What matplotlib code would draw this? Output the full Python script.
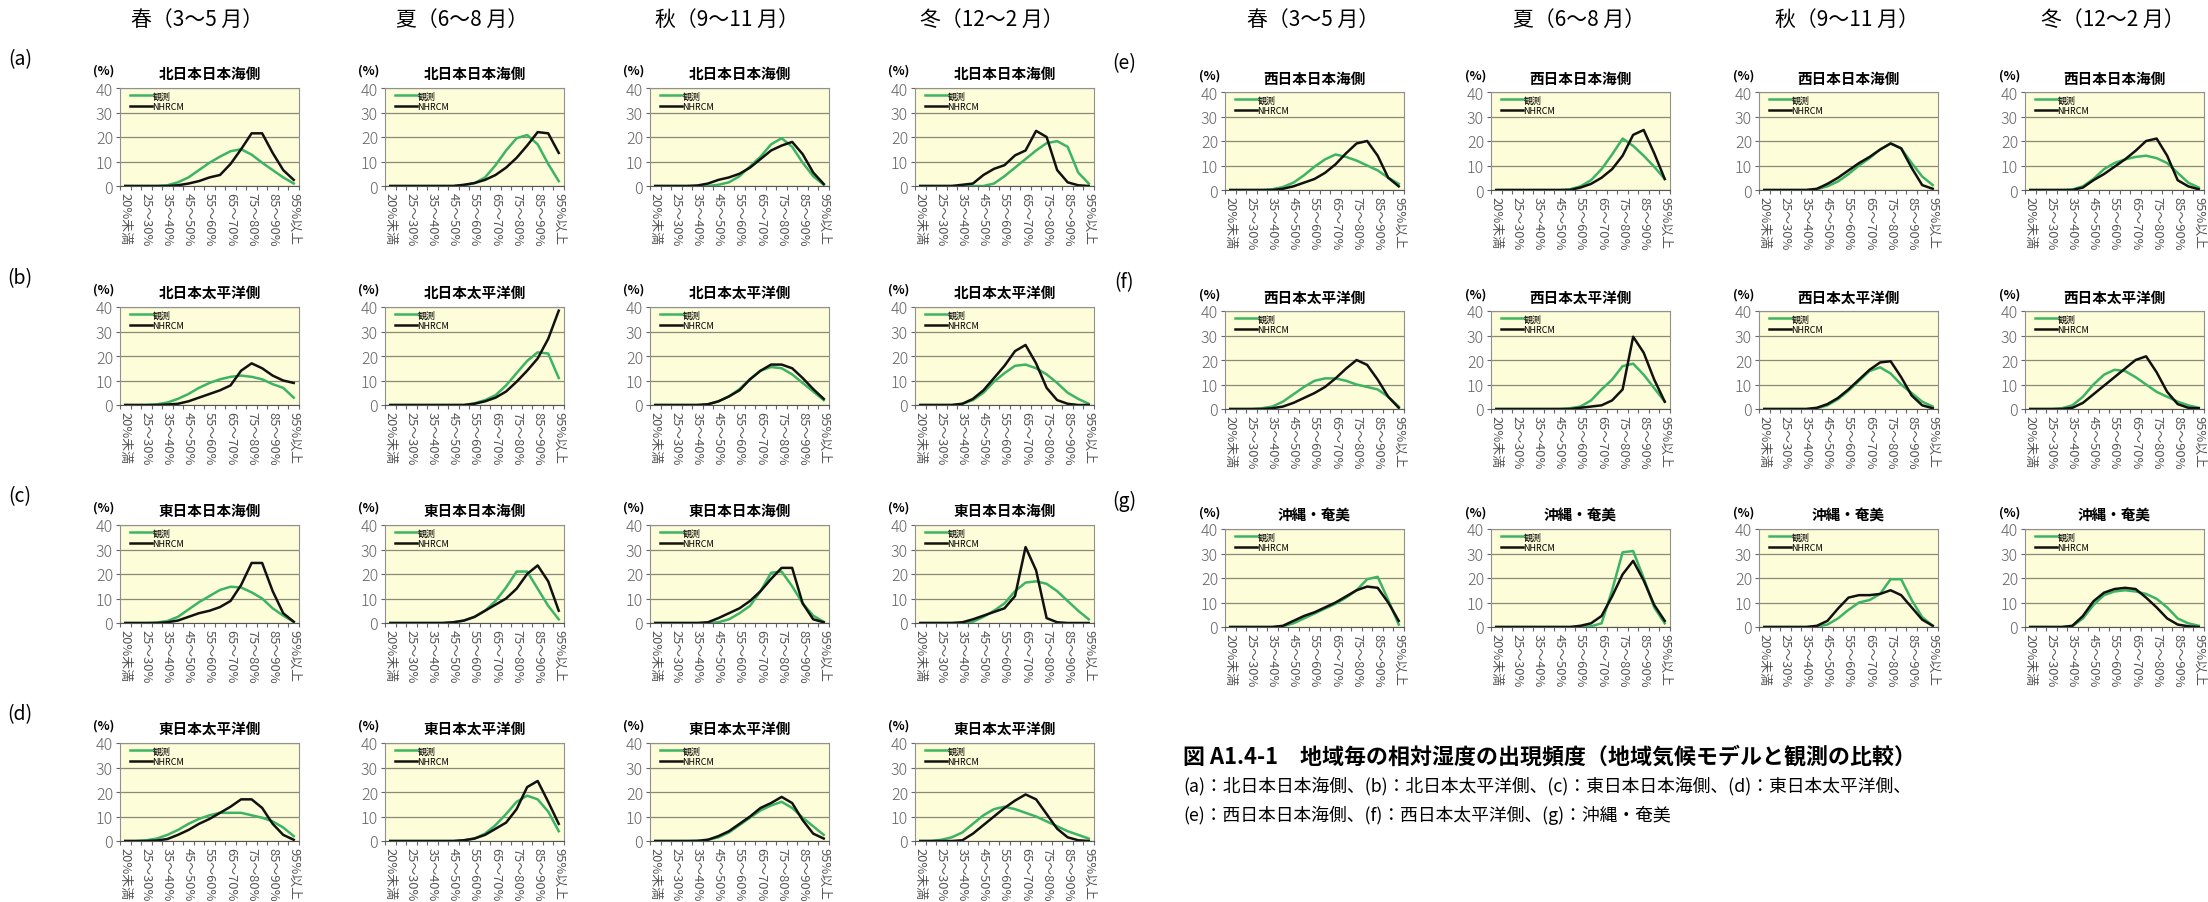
import matplotlib.pyplot as plt
import numpy as np

plt.rcParams['font.family'] = ['Noto Sans CJK JP', 'DejaVu Sans']

# 相対湿度の階級（17区分）
categories = ['20%未満', '20～25%', '25～30%', '30～35%', '35～40%', '40～45%',
              '45～50%', '50～55%', '55～60%', '60～65%', '65～70%', '70～75%',
              '75～80%', '80～85%', '85～90%', '90～95%', '95%以上']
seasons = ['春（3～5 月）', '夏（6～8 月）', '秋（9～11 月）', '冬（12～2 月）']
regions = ['北日本日本海側', '北日本太平洋側', '東日本日本海側', '東日本太平洋側',
           '西日本日本海側', '西日本太平洋側', '沖縄・奄美']
tags = ['(a)', '(b)', '(c)', '(d)', '(e)', '(f)', '(g)']

# 観測 / NHRCM の出現頻度(%)  各地域: 春, 夏, 秋, 冬
obs_a = [[0, 0, 0, 0, 0.3, 1.5, 3.5, 6.5, 9.5, 12, 14.2, 15, 12.8, 9.5, 6.5, 3.5, 1],
         [0, 0, 0, 0, 0, 0, 0, 0.3, 1.2, 3.5, 8.5, 14.5, 19.5, 20.8, 17, 9, 2],
         [0, 0, 0, 0, 0, 0, 0.5, 1.5, 4, 8, 12, 17, 19.5, 16, 9.5, 4, 0.5],
         [0, 0, 0, 0, 0, 0, 0, 1, 4, 7.5, 11, 14.5, 17.5, 18.3, 16, 5.5, 1]]
rcm_a = [[0, 0, 0, 0, 0, 0.3, 1, 2, 3.5, 4.5, 9, 15, 21.5, 21.5, 13.5, 6.5, 2.5],
         [0, 0, 0, 0, 0, 0, 0, 0.5, 1.2, 2.5, 4.5, 7.5, 11.5, 16.5, 22, 21.5, 13.5],
         [0, 0, 0, 0, 0.2, 1, 2.5, 3.5, 5, 7.5, 11, 14.5, 16.5, 18, 13, 5.5, 0.8],
         [0, 0, 0, 0, 0.5, 1, 4.5, 7, 8.5, 12.5, 14.5, 22.5, 20, 6.5, 1.5, 0.3, 0]]

obs_b = [[0, 0, 0, 0.3, 1, 2.5, 4.5, 7, 9, 10.5, 11.5, 12, 11.5, 10.5, 8.5, 7, 3],
         [0, 0, 0, 0, 0, 0, 0, 0, 0.7, 2, 4, 8, 13, 18, 21.5, 21, 11],
         [0, 0, 0, 0, 0, 0.3, 1.5, 3.5, 6.5, 10.5, 14, 15.5, 15, 12.5, 9, 5.5, 2],
         [0, 0, 0, 0, 0.5, 2, 5, 9.5, 13, 16, 16.5, 15, 12.5, 9, 5, 2.5, 0.5]]
rcm_b = [[0, 0, 0, 0, 0.2, 0.5, 1.5, 3, 4.5, 6, 8, 14, 17, 15, 12, 10, 9],
         [0, 0, 0, 0, 0, 0, 0, 0, 0.5, 1.5, 3, 5.5, 9.5, 14, 19, 27, 38.5],
         [0, 0, 0, 0, 0, 0.3, 1.5, 3.5, 6, 10.5, 14, 16.5, 16.5, 15, 11, 6.5, 2.5],
         [0, 0, 0, 0, 0.5, 2.5, 6, 11, 16, 22, 24.5, 17, 7, 2, 0.5, 0, 0]]

obs_c = [[0, 0, 0, 0.2, 0.8, 2.5, 5.5, 8.5, 11, 13.5, 14.8, 14.5, 12.5, 10, 6, 3, 0.5],
         [0, 0, 0, 0, 0, 0, 0.3, 1, 2.5, 5, 9, 14.5, 21, 21, 14, 7, 1.5],
         [0, 0, 0, 0, 0, 0, 0.3, 1.5, 4, 7, 13, 20.5, 21, 15, 8, 3, 0.5],
         [0, 0, 0, 0, 0, 0.5, 2.5, 5, 8, 13, 16.5, 17, 16, 13, 9, 5, 1.5]]
rcm_c = [[0, 0, 0, 0, 0.3, 1, 2.5, 4, 5, 6.5, 9, 15.5, 24.5, 24.5, 13, 4, 0.5],
         [0, 0, 0, 0, 0, 0, 0.3, 1, 2.5, 5, 7.5, 10, 14, 20, 23.5, 17, 5],
         [0, 0, 0, 0, 0, 0.3, 2, 4, 6, 9, 13, 18, 22.5, 22.5, 8, 1.5, 0.3],
         [0, 0, 0, 0, 0.3, 1.5, 3, 4.5, 6, 11, 31, 21.5, 2, 0.3, 0, 0, 0]]

obs_d = [[0, 0, 0.3, 1, 2.5, 4.5, 7, 9, 10.5, 11.5, 11.5, 11.5, 10.5, 9.5, 8, 5.5, 2],
         [0, 0, 0, 0, 0, 0, 0, 0.3, 1, 3, 6.5, 11, 16, 18.5, 17, 12, 4],
         [0, 0, 0, 0, 0.2, 0.5, 1.5, 3.5, 6.5, 9.5, 12.5, 14.5, 16, 13.5, 9.5, 6, 2.5],
         [0, 0, 0.5, 1.5, 3.5, 7, 10.5, 13, 14, 13, 11.5, 10, 8, 6, 4, 2.5, 1]]
rcm_d = [[0, 0, 0, 0.2, 0.8, 2.5, 4.5, 7, 9, 11.5, 14, 17, 17, 13.5, 7, 2.5, 0.5],
         [0, 0, 0, 0, 0, 0, 0, 0.3, 1, 2.5, 5, 7.5, 13, 22, 24.5, 16, 7],
         [0, 0, 0, 0, 0, 0.5, 2, 4, 7, 10, 13.5, 15.5, 18, 15.5, 8.5, 3, 1],
         [0, 0, 0, 0, 0.3, 3, 6.5, 10, 13.5, 16.5, 19, 17, 11, 5, 1.5, 0.3, 0]]

obs_e = [[0, 0, 0, 0, 0.3, 1.2, 3, 6, 9.5, 12.5, 14.5, 13.5, 12, 10, 8, 5, 2.5],
         [0, 0, 0, 0, 0, 0, 0, 0.3, 1.5, 4, 8.5, 14.5, 21, 18, 14, 9.5, 4.5],
         [0, 0, 0, 0, 0, 0.3, 1.5, 3.5, 6.5, 10, 13, 16.5, 19, 17, 11, 5.5, 2],
         [0, 0, 0, 0, 0.2, 1.5, 4.5, 8.5, 11, 12.5, 13.5, 14, 13, 11, 7, 3, 1]]
rcm_e = [[0, 0, 0, 0, 0, 0.5, 1.5, 3, 4.5, 7, 10.5, 15, 19, 20, 14, 5, 1.5],
         [0, 0, 0, 0, 0, 0, 0, 0, 1, 2.5, 5, 8.5, 14, 22.5, 24.5, 15, 4.5],
         [0, 0, 0, 0, 0, 0.5, 2.5, 5, 8, 11, 13.5, 16.5, 19, 17, 9, 2, 0.5],
         [0, 0, 0, 0, 0, 1, 4, 6.5, 9.5, 12.5, 16, 20, 21, 14, 4, 1.5, 0.3]]

obs_f = [[0, 0, 0, 0.3, 1, 3, 6, 9, 11.5, 12.5, 12.5, 11.5, 10, 9, 8, 5, 1],
         [0, 0, 0, 0, 0, 0, 0, 0.3, 1, 3.5, 8, 12, 17.5, 18.5, 14, 8.5, 3],
         [0, 0, 0, 0, 0, 0.3, 1.5, 4, 7.5, 11.5, 15.5, 17, 14.5, 10, 6.5, 3, 1],
         [0, 0, 0, 0.3, 1.5, 5, 10, 14, 16, 15.5, 13, 10, 7, 5, 3, 1.5, 0.5]]
rcm_f = [[0, 0, 0, 0, 0.3, 1, 2.5, 4.5, 6.5, 9, 12.5, 16.5, 20, 18, 12, 5, 0.5],
         [0, 0, 0, 0, 0, 0, 0, 0, 0.5, 1, 1.5, 3.5, 8, 29.5, 23, 12, 3],
         [0, 0, 0, 0, 0, 0.5, 2, 4.5, 8, 12, 16, 19, 19.5, 13, 5.5, 1.5, 0.3],
         [0, 0, 0, 0, 0.5, 2.5, 6, 9.5, 13, 16.5, 20, 21.5, 15, 7, 2, 0.5, 0.3]]

obs_g = [[0, 0, 0, 0, 0, 0.3, 1.5, 3.5, 5.5, 7.5, 9.5, 12, 15, 19.5, 20.5, 11, 1],
         [0, 0, 0, 0, 0, 0, 0, 0, 0, 0.3, 1.5, 15, 30.5, 31, 20, 8, 1.5],
         [0, 0, 0, 0, 0, 0.2, 1, 3.5, 7, 10, 11, 13.5, 19.5, 19.5, 11, 4, 0.5],
         [0, 0, 0, 0, 0.3, 3.5, 9, 13, 14.5, 15, 14.5, 13.5, 11.5, 8, 3.5, 1.5, 0.5]]
rcm_g = [[0, 0, 0, 0, 0, 0.5, 2.5, 4.5, 6, 8, 10, 12.5, 15, 16.5, 16, 10, 2.5],
         [0, 0, 0, 0, 0, 0, 0, 0, 0.5, 1.5, 4.5, 12.5, 21.5, 27, 19, 9, 2.5],
         [0, 0, 0, 0, 0, 0.5, 2.5, 7.5, 12, 13, 13, 13.5, 15, 13, 8, 3, 0.5],
         [0, 0, 0, 0, 0.5, 4.5, 10.5, 14, 15.5, 16, 15.5, 12, 8, 3.5, 1, 0.3, 0]]

obs_all = [obs_a, obs_b, obs_c, obs_d, obs_e, obs_f, obs_g]
rcm_all = [rcm_a, rcm_b, rcm_c, rcm_d, rcm_e, rcm_f, rcm_g]

GREEN = '#3cb464'
W, H = 2208, 903
fig = plt.figure(figsize=(W / 100, H / 100), dpi=100)


def ftext(x, y, s, **kw):
    fig.text(x / W, 1 - y / H, s, **kw)


def draw_panel(left, top, title, obs, rcm, dx_pct, dy_pct, dy_title):
    ax = fig.add_axes([left / W, 1 - (top + 98) / H, 179 / W, 98 / H])
    x = np.arange(len(categories))
    ax.plot(x, obs, color=GREEN, lw=1.8, label='観測')
    ax.plot(x, rcm, color='#111111', lw=1.8, label='NHRCM')
    ax.set_xlim(-0.5, 16.5)
    ax.set_ylim(0, 40)
    ax.set_facecolor('#fdfdd9')
    ax.set_axisbelow(True)
    ax.set_yticks([0, 10, 20, 30, 40])
    ax.tick_params(axis='y', labelsize=11.5, colors='#666666', length=3, width=0.8, pad=2)
    for lab in ax.get_yticklabels():
        lab.set_fontweight('light')
    ax.yaxis.grid(True, color='#8a8a78', lw=0.9)
    ax.set_xticks(x, [c if i % 2 == 0 else '' for i, c in enumerate(categories)],
                  rotation=-90, fontsize=9.3, color='#555555')
    ax.tick_params(axis='x', which='major', length=0, pad=4)
    ax.set_xticks(np.arange(-0.5, 17, 1), minor=True)
    ax.tick_params(axis='x', which='minor', length=3, color='#666666', width=0.8)
    for s in ax.spines.values():
        s.set_color('#909090')
        s.set_linewidth(0.8)
    ax.spines['bottom'].set_color('#555555')
    ax.legend(loc='upper left', bbox_to_anchor=(0.02, 1.03), frameon=False,
              fontsize=6.5, handlelength=2.4, handletextpad=0.1,
              labelspacing=0.15, borderpad=0.2)
    ftext(left + 89.5, top - dy_title, title, ha='center', va='center',
          fontsize=10.5, fontweight='bold')
    ftext(left - dx_pct, top - dy_pct, '(%)', ha='center', va='center',
          fontsize=9, fontweight='bold')
    return ax


left_cols = [120, 385, 650, 915]
left_rows = [89, 308, 526, 744]
right_cols = [1225, 1491, 1759, 2025]
right_rows = [93, 312, 530]

for j, s in enumerate(seasons):
    ftext(left_cols[j] + 77, 20, s, ha='center', va='center', fontsize=15)
    ftext(right_cols[j] + 88, 20, s, ha='center', va='center', fontsize=15)

for r in range(7):
    if r < 4:
        cols, top = left_cols, left_rows[r]
        tag_x, dpx, dpy, dty = 20, 16, 18, 15
    else:
        cols, top = right_cols, right_rows[r - 4]
        tag_x, dpx, dpy, dty = 1124, 15, 17, 14
    ftext(tag_x, top - 29, tags[r], ha='center', va='center', fontsize=14)
    for j in range(4):
        draw_panel(cols[j], top, regions[r], obs_all[r][j], rcm_all[r][j], dpx, dpy, dty)

ftext(1183, 757, '図 A1.4-1　地域毎の相対湿度の出現頻度（地域気候モデルと観測の比較）',
      ha='left', va='center', fontsize=15.8, fontweight='bold')
ftext(1183, 786, '(a)：北日本日本海側、(b)：北日本太平洋側、(c)：東日本日本海側、(d)：東日本太平洋側、',
      ha='left', va='center', fontsize=12.8)
ftext(1183, 815, '(e)：西日本日本海側、(f)：西日本太平洋側、(g)：沖縄・奄美',
      ha='left', va='center', fontsize=12.8)

fig.savefig('out.png', dpi=100)
